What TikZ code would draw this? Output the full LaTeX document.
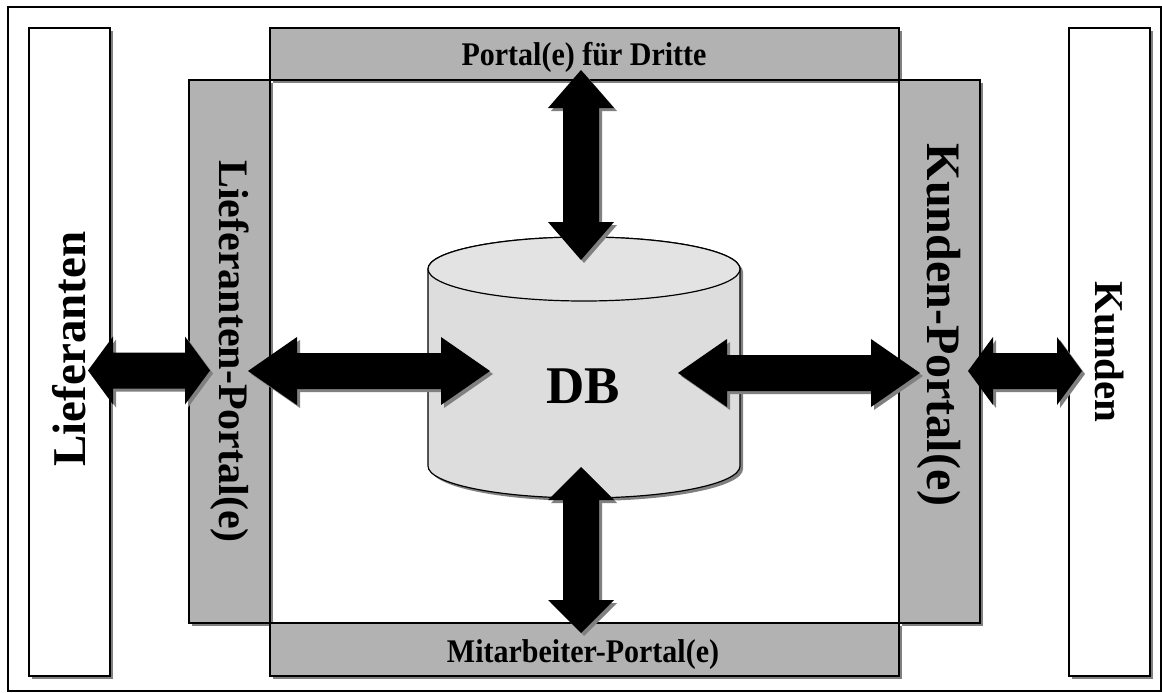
\documentclass[tikz,border=0pt]{standalone}
\usepackage{fontspec}
\setmainfont{Liberation Serif}
\usetikzlibrary{shadows}

\definecolor{portalgray}{RGB}{178,178,178}
\definecolor{shadowgray}{RGB}{128,128,128}
\definecolor{dbfill}{RGB}{221,221,221}
\definecolor{dbtop}{RGB}{227,227,227}

\newcommand\hlabelfont{\fontsize{30}{30}\selectfont\bfseries}
\newcommand\vfontsize[1]{\fontsize{#1}{#1}\selectfont\bfseries}
\newcommand\dblabelfont{\fontsize{53}{53}\selectfont\bfseries}

% horizontal block double arrow: x1, x2, y, head length
\newcommand\HArrow[4]{%
  \foreach \off/\col in {3/shadowgray,0/black}{%
    \fill[\col, shift={(\off,\off)}]
      (#1,#3) -- (#1+#4,#3-34) -- (#1+#4,#3-18) -- (#2-#4,#3-18) -- (#2-#4,#3-34)
      -- (#2,#3) -- (#2-#4,#3+34) -- (#2-#4,#3+18) -- (#1+#4,#3+18) -- (#1+#4,#3+34) -- cycle;}}
% vertical block double arrow: x, y1, y2, head length
\newcommand\VArrow[4]{%
  \foreach \off/\col in {3/shadowgray,0/black}{%
    \fill[\col, shift={(\off,\off)}]
      (#1,#2) -- (#1-33,#2+#4) -- (#1-18,#2+#4) -- (#1-18,#3-#4) -- (#1-33,#3-#4)
      -- (#1,#3) -- (#1+33,#3-#4) -- (#1+18,#3-#4) -- (#1+18,#2+#4) -- (#1+33,#2+#4) -- cycle;}}

\begin{document}
\begin{tikzpicture}[x=1pt,y=-1pt,
  panel/.style={draw=black, line width=1.1pt, anchor=north west, inner sep=0pt, outer sep=0pt,
    drop shadow={shadow xshift=3pt, shadow yshift=-3pt, fill=shadowgray, opacity=1}},
  party/.style={panel, fill=white},
  portal/.style={panel, fill=portalgray},
  hlabel/.style={font=\hlabelfont, anchor=base, inner sep=0pt},
  vlabel/.style={font=\vfontsize{#1}, inner sep=0pt}
]
\useasboundingbox (0,0) rectangle (1162,693);
\fill[white] (0,0) rectangle (1162,693);

% outer frame
\draw[line width=2.2pt] (8,7) rectangle (1161,691);

% outside parties
\node[party, minimum width=81pt, minimum height=648pt] (lief) at (29,28) {};
\node[party, minimum width=81pt, minimum height=648pt] (kund) at (1069,28) {};

% portals around the central area
\node[portal, minimum width=629pt, minimum height=52pt] (dritte) at (270,28) {};
\node[portal, minimum width=81pt, minimum height=543pt] (lportal) at (189,80) {};
\node[portal, minimum width=81pt, minimum height=543pt] (kportal) at (899,80) {};
\node[portal, minimum width=629pt, minimum height=53pt] (mitarb) at (270,623) {};

% labels
\node[vlabel=47, rotate=90] (lieftext) at (69,349) {Lieferanten};
\node[vlabel=41, rotate=-90] (kundtext) at (kund.center) {Kunden};
\node[vlabel=42, rotate=-90] (lporttext) at (lportal.center) {Lieferanten-Portal(e)};
\node[vlabel=48, rotate=-90] (kporttext) at (939,325) {Kunden-Portal(e)};
\node[hlabel] (drittetext) at (584,66) {\scalebox{1}[1.1]{Portal(e) für Dritte}};
\node[hlabel] (mitarbtext) at (583,662) {\scalebox{1}[1.1]{Mitarbeiter-Portal(e)}};

% database cylinder
\fill[shadowgray, shift={(3,3)}] (428,269) -- (428,466)
  arc[start angle=180, end angle=360, x radius=156pt, y radius=32pt] -- (740,269)
  arc[start angle=0, end angle=180, x radius=156pt, y radius=32pt] -- cycle;
\filldraw[fill=dbfill, line width=1.2pt] (428,269) -- (428,466)
  arc[start angle=180, end angle=360, x radius=156pt, y radius=32pt] -- (740,269)
  arc[start angle=0, end angle=180, x radius=156pt, y radius=32pt] -- cycle;
\filldraw[fill=dbtop, line width=1.2pt] (584,269) ellipse[x radius=156pt, y radius=32pt];
\node[font=\dblabelfont, anchor=base, inner sep=0pt] (db) at (583.5,403) {DB};

% block arrows
\HArrow{88}{210}{370.5}{25}
\HArrow{248}{490}{371}{49}
\HArrow{678}{920}{373}{49}
\HArrow{968}{1082}{371}{25}
\VArrow{581}{70}{260}{38}
\VArrow{581}{467}{633}{33}
\end{tikzpicture}
\end{document}
